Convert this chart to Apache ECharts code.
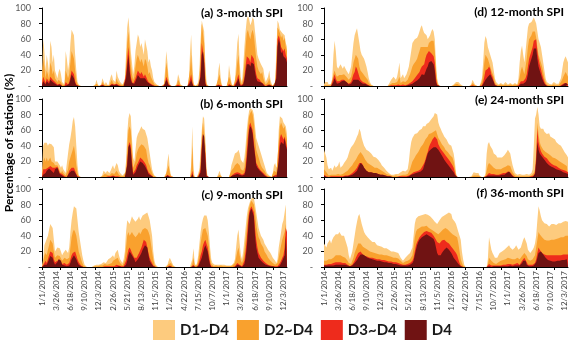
<!DOCTYPE html>
<html>
<head>
<meta charset="utf-8">
<script src="https://cdn.jsdelivr.net/npm/echarts@6/dist/echarts.min.js"></script>
<style>
  html, body { margin: 0; padding: 0; background: #fff; }
  #main { width: 572px; height: 341px; }
</style>
</head>
<body>
<div id="main"></div>
<script>
// weekly % of stations in drought, 52 weeks per year, 2014-2017
const levels = ['D1~D4', 'D2~D4', 'D3~D4', 'D4']
const levelColors = ['#FDCB7E', '#F9A12E', '#EE2B1C', '#701313']
const panelTitles = ['(a) 3-month SPI', '(b) 6-month SPI', '(c) 9-month SPI',
  '(d) 12-month SPI', '(e) 24-month SPI', '(f) 36-month SPI']
const yTicks = [0, 20, 40, 60, 80, 100]

const spi3_d1 = [10,60,45,20,40,30,15,58,50,30,40,20,15, 10,18,22,15,5,3,2,45,35,20,30,55,72, 70,65,40,20,5,2,0,0,0,0,0,0,0, 0,0,0,0,0,0,2,8,3,0,0,2,10,
  6,2,5,3,0,2,12,15,8,10,5,20,12, 10,5,3,2,5,10,40,75,88,70,45,30,15, 25,45,55,66,62,50,55,48,40,60,58,45,30, 35,25,20,10,5,3,2,0,0,0,0,2,3,
  20,45,30,10,3,0,0,0,0,0,5,15,10, 2,0,0,0,0,0,0,5,40,66,30,5,0, 0,2,5,20,60,84,82,70,30,5,0,0,0, 0,0,0,0,0,2,20,30,10,0,0,0,0,
  0,5,27,15,5,0,0,5,30,55,67,30,10, 5,25,50,70,85,90,86,78,82,88,85,70,55, 40,35,35,28,30,22,12,5,3,12,20,8,3, 0,2,5,45,84,80,72,70,68,70,65,55,50]
const spi3_d2 = [5,35,25,10,20,15,8,30,25,15,20,10,8, 5,8,10,5,2,1,1,20,15,10,15,30,45, 40,35,20,8,2,0,0,0,0,0,0,0,0, 0,0,0,0,0,0,1,3,1,0,0,1,5,
  3,1,2,1,0,1,5,8,4,5,2,10,5, 5,2,1,1,2,5,25,55,70,50,28,15,8, 12,25,35,40,38,30,35,30,25,35,32,25,15, 18,12,10,5,2,1,1,0,0,0,0,1,1,
  10,30,20,5,1,0,0,0,0,0,2,8,5, 1,0,0,0,0,0,0,2,20,40,15,2,0, 0,1,2,10,45,80,78,55,15,2,0,0,0, 0,0,0,0,0,1,10,15,5,0,0,0,0,
  0,2,12,8,2,0,0,2,15,30,40,15,5, 2,12,30,50,68,72,65,60,68,72,65,50,35, 25,20,22,15,18,10,5,2,1,5,10,3,1, 0,2,5,30,75,72,68,62,65,58,62,50,45]
const spi3_d3 = [2,12,8,4,10,8,5,12,10,8,10,5,3, 2,3,3,2,0,0,0,5,3,2,5,12,20, 18,15,6,2,0,0,0,0,0,0,0,0,0, 0,0,0,0,0,0,0,1,0,0,0,0,2,
  0,0,0,0,0,0,2,3,1,2,1,3,2, 1,0,0,0,0,2,15,35,50,30,12,6,3, 5,10,15,20,18,15,18,15,12,15,12,8,5, 5,3,2,1,0,0,0,0,0,0,0,0,0,
  3,12,8,2,0,0,0,0,0,0,0,2,1, 0,0,0,0,0,0,0,0,8,15,5,0,0, 0,0,0,3,20,55,55,35,5,0,0,0,0, 0,0,0,0,0,0,2,4,1,0,0,0,0,
  0,0,3,2,0,0,0,0,5,10,15,5,1, 0,3,12,25,38,40,35,30,40,42,35,25,15, 10,8,8,5,6,3,1,0,0,2,3,1,0, 0,0,2,15,60,65,60,50,52,45,48,40,35]
const spi3_d4 = [1,6,4,2,6,5,3,8,7,5,7,3,2, 1,2,2,1,0,0,0,2,1,1,3,8,15, 14,10,4,1,0,0,0,0,0,0,0,0,0, 0,0,0,0,0,0,0,0,0,0,0,0,1,
  0,0,0,0,0,0,1,2,0,1,0,2,1, 0,0,0,0,0,1,10,25,40,20,8,4,2, 3,6,10,14,12,10,12,10,8,10,8,5,3, 3,2,1,0,0,0,0,0,0,0,0,0,0,
  2,8,5,1,0,0,0,0,0,0,0,0,0, 0,0,0,0,0,0,0,0,4,8,3,0,0, 0,0,0,2,12,40,45,30,3,0,0,0,0, 0,0,0,0,0,0,1,2,0,0,0,0,0,
  0,0,1,1,0,0,0,0,2,6,10,3,0, 0,2,8,18,28,30,28,25,30,32,28,18,10, 6,5,5,3,4,2,0,0,0,1,2,0,0, 0,0,1,10,50,60,55,42,45,38,40,35,30]

const spi6_d1 = [5,40,44,42,44,40,43,44,42,44,38,20,18, 20,18,15,12,15,10,8,5,5,30,42,50,60, 72,77,65,40,15,3,0,0,0,0,0,0,0, 0,0,0,0,0,0,0,0,0,0,0,0,3,
  8,10,5,8,10,5,8,12,15,10,12,18,15, 8,5,3,2,3,5,20,55,75,82,78,50,25, 20,35,50,55,58,60,65,62,63,60,58,50,40, 30,20,10,5,2,0,0,0,0,0,0,0,0,
  0,5,20,30,10,2,0,0,0,0,0,0,0, 0,0,0,0,0,0,0,0,0,15,65,10,0, 0,0,2,10,35,60,78,75,50,10,0,0,0, 0,0,0,0,0,0,0,8,3,0,0,0,0,
  0,0,0,5,15,20,25,30,28,32,35,30,22, 20,18,25,40,60,75,85,88,90,86,80,65,50, 45,40,35,30,25,20,15,10,5,3,2,0,0, 5,15,18,12,15,60,78,76,75,70,72,65,55]
const spi6_d2 = [2,20,25,20,25,20,22,25,20,22,18,15,14, 15,12,8,5,8,5,3,2,1,10,20,25,30, 35,40,30,15,5,1,0,0,0,0,0,0,0, 0,0,0,0,0,0,0,0,0,0,0,0,1,
  3,4,2,3,4,2,3,5,6,4,5,8,6, 3,2,1,1,1,2,8,35,60,65,60,35,12, 10,20,30,35,38,40,42,40,40,38,35,25,18, 15,10,5,2,1,0,0,0,0,0,0,0,0,
  0,2,10,15,5,1,0,0,0,0,0,0,0, 0,0,0,0,0,0,0,0,0,5,40,3,0, 0,0,1,5,20,50,70,68,40,5,0,0,0, 0,0,0,0,0,0,0,3,1,0,0,0,0,
  0,0,0,2,8,10,12,15,15,18,20,15,10, 10,8,12,25,45,65,78,82,85,80,70,50,35, 30,25,20,15,12,10,8,5,2,1,1,0,0, 2,8,10,6,8,45,65,70,68,62,65,55,48]
const spi6_d3 = [0,10,12,10,12,12,14,14,12,12,10,12,12, 13,10,5,3,4,2,1,0,0,3,8,10,12, 12,12,8,4,1,0,0,0,0,0,0,0,0, 0,0,0,0,0,0,0,0,0,0,0,0,0,
  0,1,0,1,1,0,1,1,2,1,1,2,1, 0,0,0,0,0,0,3,20,40,45,40,20,5, 5,10,15,18,20,25,25,22,20,18,15,10,6, 5,3,1,0,0,0,0,0,0,0,0,0,0,
  0,0,3,5,1,0,0,0,0,0,0,0,0, 0,0,0,0,0,0,0,0,0,0,8,0,0, 0,0,0,2,10,40,55,55,30,2,0,0,0, 0,0,0,0,0,0,0,0,0,0,0,0,0,
  0,0,0,0,2,3,4,5,5,6,6,5,3, 3,2,5,12,30,50,65,70,68,60,45,30,18, 15,12,10,8,6,5,3,2,1,0,0,0,0, 0,2,3,1,2,30,50,55,52,48,52,45,38]
const spi6_d4 = [0,3,4,5,8,10,11,10,8,6,5,10,11, 12,10,4,2,2,1,0,0,0,2,5,7,8, 8,8,6,3,0,0,0,0,0,0,0,0,0, 0,0,0,0,0,0,0,0,0,0,0,0,0,
  0,0,0,0,0,0,0,0,1,0,0,1,0, 0,0,0,0,0,0,2,15,38,42,35,15,3, 3,6,10,14,16,20,20,18,16,14,12,8,4, 3,2,0,0,0,0,0,0,0,0,0,0,0,
  0,0,2,4,0,0,0,0,0,0,0,0,0, 0,0,0,0,0,0,0,0,0,0,4,0,0, 0,0,0,1,6,35,55,52,25,1,0,0,0, 0,0,0,0,0,0,0,0,0,0,0,0,0,
  0,0,0,0,1,2,2,3,3,4,4,3,2, 2,1,3,8,22,40,60,65,62,55,40,28,15, 12,10,8,6,5,4,2,1,0,0,0,0,0, 0,1,2,0,1,20,40,45,45,42,50,40,35]

const spi9_d1 = [2,10,28,32,30,40,48,55,55,50,35,20,18, 25,26,24,20,15,18,20,22,20,18,25,45,60, 70,78,80,75,60,45,35,25,15,8,3,1,0, 0,0,0,0,1,2,3,3,2,3,5,4,5,
  6,8,5,7,10,8,12,10,15,12,18,20,22, 15,10,8,5,10,20,45,60,62,55,60,65,62, 60,58,60,62,65,60,62,66,65,68,70,70,65, 60,50,40,20,8,3,1,0,0,0,0,0,0,
  0,0,3,8,12,10,5,2,0,0,0,0,0, 0,0,0,0,0,0,0,0,0,0,10,24,5, 2,5,15,30,45,55,62,66,65,66,60,45,25, 10,5,3,3,4,3,2,3,4,3,2,3,2,
  2,3,2,3,2,4,5,10,25,40,48,30,15, 10,20,35,50,65,75,80,85,88,90,88,80,70, 60,50,45,40,38,35,30,28,25,22,20,18,15, 12,10,8,5,10,25,35,45,55,60,70,80,78]
const spi9_d2 = [1,5,15,18,15,22,28,35,35,30,20,12,10, 15,16,14,12,8,10,12,12,10,8,12,25,38, 45,48,45,40,30,20,15,10,5,2,1,0,0, 0,0,0,0,0,1,1,1,1,1,2,2,2,
  3,4,2,3,5,4,6,5,8,6,10,10,12, 8,5,4,2,5,10,25,40,45,40,42,45,42, 40,38,40,42,45,42,45,48,48,50,50,48,45, 40,30,20,10,3,1,0,0,0,0,0,0,0,
  0,0,1,4,6,5,2,1,0,0,0,0,0, 0,0,0,0,0,0,0,0,0,0,4,12,2, 1,2,8,18,30,40,48,50,50,48,40,28,12, 4,2,1,1,2,1,1,1,2,1,1,1,1,
  1,1,1,1,1,2,2,5,12,20,25,15,8, 5,10,20,35,50,65,75,82,85,85,80,70,55, 45,38,35,30,28,25,20,18,15,12,10,8,6, 5,4,3,2,5,12,20,28,35,40,45,55,55]
const spi9_d3 = [0,2,5,8,5,10,15,20,22,18,10,6,5, 8,10,10,8,4,5,5,4,3,3,5,10,15, 18,20,20,15,10,6,4,2,1,0,0,0,0, 0,0,0,0,0,0,0,0,0,0,0,0,0,
  0,1,0,1,1,1,2,1,2,1,3,3,4, 2,1,1,0,1,3,8,15,22,25,22,18,15, 12,10,12,15,18,20,25,30,35,35,32,25,18, 12,8,5,2,1,0,0,0,0,0,0,0,0,
  0,0,0,1,2,1,0,0,0,0,0,0,0, 0,0,0,0,0,0,0,0,0,0,0,3,0, 0,0,3,8,15,20,28,32,35,33,25,15,5, 1,0,0,0,0,0,0,0,0,0,0,0,0,
  0,0,0,0,0,0,0,1,3,5,6,3,1, 1,3,8,20,35,55,70,75,78,78,70,50,35, 25,18,15,12,10,8,6,5,4,3,3,2,2, 1,1,1,0,1,3,5,8,12,15,25,50,45]
const spi9_d4 = [0,1,3,4,3,6,10,14,15,12,6,3,3, 6,10,10,8,3,2,2,1,1,1,2,5,10, 12,15,15,10,6,3,2,1,0,0,0,0,0, 0,0,0,0,0,0,0,0,0,0,0,0,0,
  0,0,0,0,0,0,0,0,1,0,1,0,2, 1,0,0,0,0,1,3,8,15,20,18,15,15, 10,6,8,10,12,15,18,22,25,28,30,25,15, 8,5,3,1,0,0,0,0,0,0,0,0,0,
  0,0,0,0,1,0,0,0,0,0,0,0,0, 0,0,0,0,0,0,0,0,0,0,0,1,0, 0,0,1,3,8,12,18,24,28,30,20,10,3, 0,0,0,0,0,0,0,0,0,0,0,0,0,
  0,0,0,0,0,0,0,0,1,3,4,2,0, 0,1,4,12,25,45,65,72,75,75,65,40,25, 18,12,10,8,6,5,4,3,3,2,2,1,1, 1,0,0,0,0,1,2,4,8,10,15,40,38]

const spi12_d1 = [2,5,3,5,2,1,3,10,40,58,45,25,22, 25,28,25,22,26,24,20,18,15,20,25,40,55, 65,70,74,72,55,45,40,38,35,30,25,18,10, 5,2,1,0,0,0,0,0,0,0,0,0,0,
  0,0,0,2,5,8,10,12,10,8,12,20,30, 10,12,15,10,12,15,20,25,35,45,55,57,60, 58,62,65,70,75,78,72,68,70,65,60,62,65, 70,73,70,60,30,10,3,0,0,0,0,0,0,
  0,0,0,0,0,0,2,4,5,6,5,3,2, 0,0,0,0,0,0,0,0,3,8,6,2,0, 0,0,0,2,10,30,55,64,60,50,45,40,35, 30,20,10,5,3,2,3,4,3,2,3,5,3,
  2,3,4,3,2,3,4,3,2,10,30,45,52, 40,30,45,60,75,80,78,82,85,88,86,80,70, 60,55,50,40,30,20,10,5,4,3,3,2,3, 5,4,3,2,3,5,10,20,30,35,38,36,30]
const spi12_d2 = [1,2,1,2,1,0,1,3,15,20,15,12,12, 14,15,14,12,15,14,12,10,8,10,12,20,30, 35,40,38,35,25,20,18,16,15,12,10,8,4, 2,1,0,0,0,0,0,0,0,0,0,0,0,
  0,0,0,1,2,3,4,5,4,3,5,8,12, 4,5,6,4,5,6,8,12,15,20,25,28,30, 32,35,40,45,50,52,50,48,50,52,50,55,55, 58,60,58,45,20,5,1,0,0,0,0,0,0,
  0,0,0,0,0,0,1,2,2,3,2,1,1, 0,0,0,0,0,0,0,0,1,4,3,1,0, 0,0,0,1,5,15,30,40,38,35,30,25,20, 18,12,5,2,1,1,1,2,1,1,1,2,1,
  1,1,2,1,1,1,2,1,1,5,12,20,25, 20,15,25,35,50,60,62,65,70,72,70,62,50, 40,35,30,25,18,10,5,2,2,1,1,1,1, 2,2,1,1,1,2,5,8,12,15,18,16,12]
const spi12_d3 = [0,0,0,0,0,0,0,1,10,15,10,6,5, 6,8,8,6,8,7,5,4,3,4,5,10,15, 18,25,22,20,12,8,6,5,5,4,3,2,1, 0,0,0,0,0,0,0,0,0,0,0,0,0,
  0,0,0,0,0,1,1,1,1,1,1,2,4, 1,1,2,1,1,2,2,3,4,5,6,8,10, 12,14,15,18,22,25,25,28,35,40,42,45,45, 42,40,38,30,10,2,0,0,0,0,0,0,0,
  0,0,0,0,0,0,0,0,0,0,0,0,0, 0,0,0,0,0,0,0,0,0,1,0,0,0, 0,0,0,0,1,5,12,20,22,22,25,22,15, 12,6,2,1,0,0,0,0,0,0,0,0,0,
  0,0,0,0,0,0,0,0,0,1,3,6,8, 6,5,10,15,25,35,40,45,50,58,60,60,45, 35,28,22,15,10,5,2,1,0,0,0,0,0, 0,0,0,0,0,0,1,2,3,4,5,4,3]
const spi12_d4 = [0,0,0,0,0,0,0,0,5,10,6,3,3, 4,5,6,6,7,6,5,4,2,2,3,5,8, 6,8,8,8,6,5,4,3,3,3,2,1,0, 0,0,0,0,0,0,0,0,0,0,0,0,0,
  0,0,0,0,0,0,0,0,0,0,0,0,1, 0,0,0,0,0,0,1,1,2,2,3,4,5, 6,7,8,10,12,15,15,14,18,22,25,30,32, 32,30,28,20,5,1,0,0,0,0,0,0,0,
  0,0,0,0,0,0,0,0,0,0,0,0,0, 0,0,0,0,0,0,0,0,0,0,0,0,0, 0,0,0,0,0,2,5,8,10,12,14,15,12, 10,5,1,0,0,0,0,0,0,0,0,0,0,
  0,0,0,0,0,0,0,0,0,0,1,3,4, 3,2,5,8,15,25,30,35,40,48,50,48,35, 25,20,15,10,6,3,1,0,0,0,0,0,0, 0,0,0,0,0,0,0,1,2,3,4,3,2]

const spi24_d1 = [35,30,25,15,10,8,12,8,10,15,12,10,15, 20,12,10,15,18,20,22,25,30,35,38,40,42, 45,48,52,55,62,58,50,45,40,38,35,35,33, 34,30,28,26,28,25,25,22,20,18,15,14,12,
  10,8,6,5,4,3,3,3,4,4,3,4,5, 6,5,8,8,7,8,10,20,35,45,50,52,55, 55,56,58,60,60,62,65,64,65,68,70,70,72, 74,75,78,82,83,80,70,65,62,58,55,52,50,
  48,45,42,40,40,38,30,20,5,0,0,0,0, 0,0,0,0,0,0,0,0,1,3,6,6,5, 6,5,2,0,0,0,0,5,30,42,45,40,38, 35,30,28,28,25,26,25,24,25,26,28,30,32,
  35,36,30,22,15,10,5,4,3,3,4,3,3, 4,3,3,4,3,3,4,5,10,40,75,80,90, 80,65,62,60,62,58,56,55,55,56,52,50,50, 48,48,45,45,42,40,40,38,35,32,30,28,25]
const spi24_d2 = [10,8,6,4,2,2,3,2,3,4,3,3,4, 5,3,3,4,5,6,7,8,10,12,14,15,18, 20,22,25,28,30,32,30,28,25,22,20,18,16, 16,15,14,12,12,14,12,12,10,10,8,8,6,
  5,4,3,3,2,2,1,1,1,2,2,1,2, 2,2,3,3,3,3,4,6,10,15,20,22,25, 28,30,32,35,38,40,42,45,48,50,52,55,55, 56,58,58,60,60,58,50,48,45,42,40,38,35,
  35,32,30,28,28,25,20,12,3,0,0,0,0, 0,0,0,0,0,0,0,0,0,1,2,2,2, 2,2,1,0,0,0,0,1,8,15,18,16,15, 14,12,12,10,10,10,10,10,11,12,12,13,14,
  15,16,14,10,6,4,2,1,1,1,1,1,1, 1,1,1,1,1,1,1,2,3,5,10,30,70, 55,45,40,38,35,35,32,30,30,28,28,26,25, 24,24,22,22,20,20,19,18,17,16,15,14,12]
const spi24_d3 = [3,2,1,1,0,0,1,0,1,1,1,1,1, 1,1,1,1,1,2,2,2,3,3,4,5,6, 8,10,12,15,18,20,18,15,12,10,8,7,6, 6,6,5,5,5,5,4,4,4,3,3,3,2,
  2,1,1,1,1,1,0,0,0,0,0,0,1, 1,1,1,1,1,1,1,2,3,4,5,6,6, 7,7,8,9,10,12,15,18,22,28,32,38,42, 45,48,50,52,50,48,42,40,36,34,32,30,28,
  26,24,22,20,18,15,12,6,1,0,0,0,0, 0,0,0,0,0,0,0,0,0,0,1,0,0, 0,0,0,0,0,0,0,0,2,4,5,5,4, 4,4,3,3,3,3,4,4,4,5,5,5,6,
  7,8,6,4,2,1,0,0,0,0,0,0,0, 0,0,0,0,0,0,0,1,1,2,6,25,62, 45,38,33,30,28,26,25,24,22,20,18,17,16, 15,14,14,12,12,11,10,10,9,8,8,7,6]
const spi24_d4 = [2,1,0,0,0,0,0,0,0,0,0,0,0, 0,0,0,0,0,1,1,1,1,2,2,3,4, 5,6,8,12,15,18,18,15,12,10,8,7,6, 6,6,5,5,5,5,4,4,4,3,3,3,2,
  2,1,1,1,1,0,0,0,0,0,0,0,0, 0,0,0,0,0,0,1,1,2,3,3,4,4, 5,5,6,6,7,8,10,15,20,25,30,33,35, 36,38,38,40,38,36,35,33,30,28,25,22,20,
  18,16,14,12,10,8,6,3,1,0,0,0,0, 0,0,0,0,0,0,0,0,0,0,0,0,0, 0,0,0,0,0,0,0,0,1,2,2,2,2, 2,2,2,2,2,2,2,3,3,3,3,4,5,
  6,7,5,3,1,0,0,0,0,0,0,0,0, 0,0,0,0,0,0,0,0,0,1,4,20,45, 35,30,28,26,25,22,20,18,16,15,14,13,12, 12,11,10,10,9,8,8,7,6,6,5,5,4]

const spi36_d1 = [30,28,25,30,32,35,30,35,38,40,42,40,42, 45,43,40,38,40,35,30,25,15,10,12,20,30, 40,50,58,65,68,62,55,50,45,42,40,38,36, 35,33,32,30,32,30,28,28,27,26,26,25,24,
  25,24,23,22,22,20,21,20,20,19,18,18,15, 12,10,8,10,12,14,15,15,18,20,25,40,55, 62,64,65,66,66,67,67,68,68,68,67,66,65, 64,62,60,58,56,55,56,60,62,64,65,66,67,
  68,69,70,70,68,62,60,58,55,50,45,40,35, 20,10,3,0,0,0,0,0,0,0,0,0,0, 0,0,0,0,0,0,0,0,0,10,38,30,22, 18,15,12,10,12,15,18,20,20,22,22,24,25,
  26,28,25,24,22,20,25,28,25,22,20,25,30, 35,38,40,30,22,20,18,20,22,25,30,40,60, 78,72,65,60,58,56,55,55,54,52,54,55,56, 55,56,54,55,56,55,56,57,58,58,59,60,58]
const spi36_d2 = [8,8,8,10,10,12,10,12,12,14,15,14,15, 16,15,14,13,14,12,10,8,5,3,4,8,12, 18,22,26,30,32,30,28,26,25,24,22,22,21, 20,20,19,19,18,18,17,17,16,16,16,15,15,
  15,15,14,14,14,13,13,12,12,12,11,11,10, 8,6,5,6,7,8,8,9,10,12,15,25,38, 45,48,50,50,52,52,52,52,52,53,52,50,50, 48,48,46,45,44,43,42,44,45,46,48,50,50,
  48,48,46,45,44,42,42,40,40,38,30,20,10, 5,2,1,0,0,0,0,0,0,0,0,0,0, 0,0,0,0,0,0,0,0,0,3,12,10,8, 6,5,4,4,5,6,7,8,8,9,10,10,11,
  12,12,11,10,10,9,10,12,12,11,10,12,14, 15,18,18,14,10,9,8,9,10,12,15,25,35, 45,42,40,38,36,35,35,34,34,34,34,35,35, 35,36,36,36,37,37,38,38,38,39,40,40,40]
const spi36_d3 = [3,3,3,4,4,5,4,5,5,5,6,5,6, 6,6,5,5,5,5,4,3,2,1,2,3,5, 8,12,15,18,20,20,18,16,15,14,14,13,13, 12,12,12,11,11,11,10,10,10,10,9,9,9,
  8,8,8,7,7,7,6,6,6,6,5,5,5, 4,3,3,3,3,4,4,4,5,6,8,12,20, 28,32,35,38,40,42,44,45,46,46,46,45,45, 44,42,40,38,35,32,30,30,32,34,35,35,34,
  32,30,30,28,26,24,22,20,18,15,10,5,2, 1,0,0,0,0,0,0,0,0,0,0,0,0, 0,0,0,0,0,0,0,0,0,0,4,3,2, 2,2,2,2,2,2,2,2,3,3,3,3,3,
  4,4,4,3,3,3,4,5,5,4,3,5,8, 10,12,12,6,3,3,3,3,3,4,5,10,18, 25,22,20,18,17,16,16,15,15,15,15,15,15, 15,15,15,15,15,15,15,16,16,16,16,17,16]
const spi36_d4 = [2,2,2,2,2,2,2,2,2,2,3,3,3, 3,3,3,3,3,3,2,2,1,1,1,2,3, 5,7,9,12,14,16,17,16,15,14,13,12,12, 11,10,10,9,9,8,8,8,8,7,7,7,6,
  6,6,5,5,5,5,4,4,4,4,3,3,3, 2,2,2,2,2,2,2,2,3,3,5,8,15, 22,28,32,35,36,38,40,40,42,42,40,40,38, 38,38,36,32,25,18,15,14,15,18,20,22,24,
  25,24,22,20,18,15,12,10,8,6,4,2,1, 0,0,0,0,0,0,0,0,0,0,0,0,0, 0,0,0,0,0,0,0,0,0,0,1,1,0, 1,1,1,1,1,1,1,1,1,1,1,1,1,
  1,2,2,1,1,1,2,2,2,2,2,3,5, 8,10,8,3,1,1,1,1,1,2,3,6,12, 18,20,20,18,16,14,12,10,9,8,8,7,7, 7,7,7,8,8,8,8,9,9,9,10,10,9]

const panelData = [
  [spi3_d1, spi3_d2, spi3_d3, spi3_d4],
  [spi6_d1, spi6_d2, spi6_d3, spi6_d4],
  [spi9_d1, spi9_d2, spi9_d3, spi9_d4],
  [spi12_d1, spi12_d2, spi12_d3, spi12_d4],
  [spi24_d1, spi24_d2, spi24_d3, spi24_d4],
  [spi36_d1, spi36_d2, spi36_d3, spi36_d4]
]

// week labels: 1/1 + 7*w for 52 weeks each year
function makeWeeks() {
  let out = []
  for (let y = 2014; y <= 2017; y++) {
    for (let w = 0; w < 52; w++) {
      let d = new Date(Date.UTC(y, 0, 1 + 7 * w))
      out.push((d.getUTCMonth() + 1) + '/' + d.getUTCDate() + '/' + y)
    }
  }
  return out
}
const weeks = makeWeeks()

const font = 'Lato, "Liberation Sans", sans-serif'
const colLeft = [42, 324]
const colWidth = [245, 244]
const rowTop = [8, 99, 189]
const titlePos = [[283, 13], [283, 104], [283, 195], [564, 12], [564, 100], [564, 193]]

let grids = [], xAxes = [], yAxes = [], series = [], graphics = []

panelData.forEach((lv, p) => {
  let col = p < 3 ? 0 : 1
  let row = p % 3
  let bottomRow = row === 2
  grids.push({ left: colLeft[col], top: rowTop[row], width: colWidth[col], height: 78 })
  xAxes.push({
    type: 'category',
    gridIndex: p,
    data: weeks,
    boundaryGap: false,
    axisLine: { lineStyle: { color: '#000', width: 1 } },
    axisTick: { show: true, interval: 14, length: 3, lineStyle: { color: '#000' } },
    axisLabel: {
      show: bottomRow,
      interval: 11,
      rotate: 90,
      fontSize: 8,
      margin: 4,
      color: '#404040',
      fontFamily: font
    },
    splitLine: { show: false }
  })
  yAxes.push({
    type: 'value',
    gridIndex: p,
    min: yTicks[0],
    max: yTicks[yTicks.length - 1],
    interval: 20,
    axisLine: { show: true, lineStyle: { color: '#000', width: 1 } },
    axisTick: { show: true, length: 3, lineStyle: { color: '#000' } },
    axisLabel: {
      fontSize: 9,
      margin: 11,
      color: '#595959',
      fontFamily: font,
      formatter: v => (v === 0 ? '-' : v)
    },
    splitLine: { show: false }
  })
  lv.forEach((vals, j) => {
    series.push({
      type: 'line',
      name: levels[j],
      xAxisIndex: p,
      yAxisIndex: p,
      data: vals,
      symbol: 'none',
      color: levelColors[j],
      lineStyle: { width: 0 },
      areaStyle: { color: levelColors[j], opacity: 1 },
      silent: true
    })
  })
  graphics.push({
    type: 'text',
    x: titlePos[p][0],
    y: titlePos[p][1],
    style: {
      text: panelTitles[p],
      font: 'bold 12px ' + font,
      fill: '#000',
      align: 'right',
      verticalAlign: 'middle'
    }
  })
})

graphics.push({
  type: 'text',
  x: 9,
  y: 143,
  rotation: Math.PI / 2,
  style: {
    text: 'Percentage of stations (%)',
    font: 'bold 12px ' + font,
    fill: '#000',
    align: 'center',
    verticalAlign: 'middle'
  }
})

const chart = echarts.init(document.getElementById('main'))
chart.setOption({
  animation: false,
  backgroundColor: '#fff',
  grid: grids,
  xAxis: xAxes,
  yAxis: yAxes,
  series: series,
  graphic: graphics,
  legend: {
    data: levels,
    left: 153,
    top: 320,
    icon: 'rect',
    itemWidth: 22,
    itemHeight: 20,
    itemGap: 8,
    padding: 0,
    selectedMode: false,
    textStyle: { fontSize: 15, fontWeight: 'bold', color: '#1a1a1a', fontFamily: font }
  }
})
</script>
</body>
</html>
